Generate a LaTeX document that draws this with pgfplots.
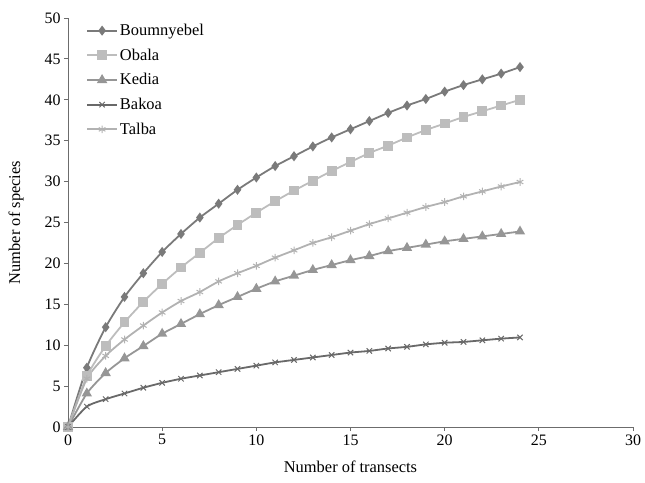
\documentclass[border=0pt]{standalone}
\usepackage{pgfplots}
\pgfplotsset{compat=1.18}
\usepackage{fontspec}
\setmainfont{Liberation Serif}
\definecolor{cB}{HTML}{7A7A7A}
\definecolor{cO}{HTML}{BDBDBD}
\definecolor{cK}{HTML}{969696}
\definecolor{cA}{HTML}{696969}
\definecolor{cT}{HTML}{B2B2B2}
\begin{document}
\begin{tikzpicture}[x=1bp,y=1bp]
\begin{axis}[
  scale only axis, width=565bp, height=409bp,
  xmin=0, xmax=30, ymin=0, ymax=50,
  axis x line*=bottom, axis y line*=left,
  axis line style={-, color=gray!85!black, line width=1bp},
  xtick={0,5,...,30}, ytick={0,5,...,50},
  tick align=outside, major tick length=4bp,
  tick style={color=gray!85!black, line width=0.8bp},
  /pgf/number format/assume math mode=true,
  tick label style={font=\fontsize{16}{18}\selectfont},
  xlabel={Number of transects}, ylabel={Number of species},
  label style={font=\fontsize{16.5}{19}\selectfont},
  xlabel style={yshift=-9bp},
  ylabel style={yshift=14bp},
  legend style={draw=none, fill=none, at={(18bp,405bp)}, anchor=north west,
    font=\fontsize{16.5}{19}\selectfont, row sep=7.8bp, inner sep=0pt,
    legend cell align=left},
  legend image post style={line width=1.8bp},
  legend image code/.code={\draw[#1] (0bp,0bp) -- (30bp,0bp); \draw[#1,only marks] plot coordinates {(15bp,0bp)};},
  every axis plot/.append style={line width=1.8bp, smooth, tension=0.4},
]
\addplot[color=cB, mark=diamond*, mark size=3.6bp, mark options={solid}] coordinates {
(0,0)(1,7.25)(2,12.2)(3,15.9)(4,18.8)(5,21.4)(6,23.6)(7,25.6)(8,27.3)(9,29.0)(10,30.5)(11,31.9)(12,33.1)(13,34.3)(14,35.4)(15,36.4)(16,37.4)(17,38.4)(18,39.3)(19,40.1)(20,41.0)(21,41.8)(22,42.5)(23,43.2)(24,44.0)};
\addlegendentry{Boumnyebel}
\addplot[color=cO, mark=square*, mark size=4bp] coordinates {
(0,0)(1,6.2)(2,9.9)(3,12.8)(4,15.3)(5,17.5)(6,19.5)(7,21.3)(8,23.1)(9,24.7)(10,26.2)(11,27.6)(12,28.9)(13,30.1)(14,31.3)(15,32.4)(16,33.5)(17,34.4)(18,35.4)(19,36.3)(20,37.1)(21,37.9)(22,38.6)(23,39.3)(24,40.0)};
\addlegendentry{Obala}
\addplot[color=cK, mark=triangle*, mark size=4.2bp] coordinates {
(0,0)(1,4.1)(2,6.6)(3,8.4)(4,9.9)(5,11.4)(6,12.6)(7,13.8)(8,14.9)(9,15.9)(10,16.9)(11,17.8)(12,18.5)(13,19.2)(14,19.8)(15,20.4)(16,20.9)(17,21.5)(18,21.9)(19,22.3)(20,22.7)(21,23.0)(22,23.3)(23,23.6)(24,23.9)};
\addlegendentry{Kedia}
\addplot[color=cA, mark=x, mark size=3.8bp, mark options={line width=1bp}] coordinates {
(0,0)(1,2.5)(2,3.4)(3,4.1)(4,4.8)(5,5.4)(6,5.9)(7,6.3)(8,6.7)(9,7.1)(10,7.5)(11,7.9)(12,8.2)(13,8.5)(14,8.8)(15,9.1)(16,9.3)(17,9.6)(18,9.8)(19,10.1)(20,10.3)(21,10.4)(22,10.6)(23,10.8)(24,10.95)};
\addlegendentry{Bakoa}
\addplot[color=cT, mark=asterisk, mark size=3.8bp, mark options={line width=1bp}] coordinates {
(0,0)(1,5.9)(2,8.7)(3,10.7)(4,12.4)(5,14.0)(6,15.4)(7,16.5)(8,17.8)(9,18.8)(10,19.7)(11,20.7)(12,21.6)(13,22.5)(14,23.2)(15,24.0)(16,24.8)(17,25.5)(18,26.2)(19,26.9)(20,27.5)(21,28.2)(22,28.8)(23,29.4)(24,29.95)};
\addlegendentry{Talba}
\end{axis}
\pgfresetboundingbox
\path (current axis.south west) ++(-68bp,-56bp) rectangle ++(645bp,483bp);
\end{tikzpicture}
\end{document}
